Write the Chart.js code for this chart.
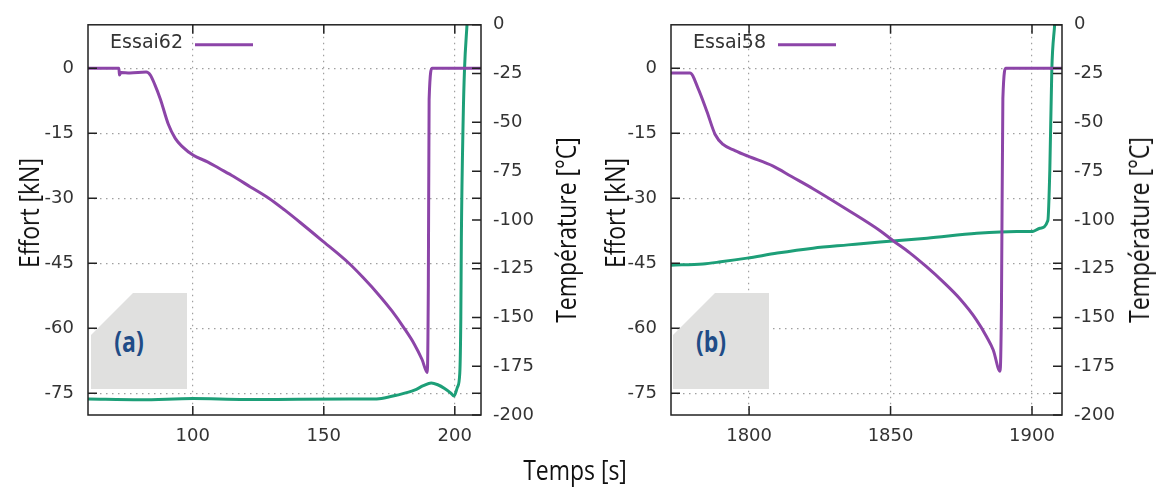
<!DOCTYPE html>
<html>
<head>
<meta charset="utf-8">
<script src="https://cdn.jsdelivr.net/npm/chart.js@4.4.1/dist/chart.umd.min.js"></script>
<style>
  body { margin: 0; background: #fff; }
  #wrap { position: relative; width: 1162px; height: 488px; overflow: hidden; }
  canvas { position: absolute; top: 0; }
  .narrow { position: absolute; white-space: nowrap; color: #111; font-size: 28px; line-height: 1;
            font-family: "Open Sans", "DejaVu Sans Condensed", sans-serif; }
  .rot { transform: translate(-50%, -50%) rotate(-90deg) scale(0.82, 1); }
  .flat { transform: translate(-50%, -50%) scale(0.82, 1); }
  .tag { position: absolute; width: 96px; height: 96px; top: 293px; background: #e0e0df;
         clip-path: polygon(0 42px, 42px 0, 100% 0, 100% 100%, 0 100%); }
  .tag span { position: absolute; left: 38px; top: 48px; transform: translate(-50%, -50%) scale(0.82, 1);
              font: bold 28px "Open Sans", "DejaVu Sans Condensed", sans-serif; color: #1f4c87; }
</style>
</head>
<body>
<div id="wrap">
  <canvas id="c62" width="580" height="488" style="left:0"></canvas>
  <canvas id="c58" width="582" height="488" style="left:580px"></canvas>
  <div class="tag" style="left:91px"><span>(a)</span></div>
  <div class="tag" style="left:673px"><span>(b)</span></div>
  <div class="narrow rot" style="left:28px; top:213px">Effort [kN]</div>
  <div class="narrow rot" style="left:614px; top:213px">Effort [kN]</div>
  <div class="narrow rot" style="left:565px; top:230px">Température [°C]</div>
  <div class="narrow rot" style="left:1138px; top:230px">Température [°C]</div>
  <div class="narrow flat" style="left:575px; top:469px">Temps [s]</div>
</div>
<script>
// Essai62 : effort (kN) vs temps (s)
const essai62Time = [60, 71.8, 72.0, 72.6, 76, 82.2, 83.8, 85.5, 87.6, 90.7, 93.3, 96.0, 100.2, 105.6, 110,
  115.6, 122, 129, 135, 141, 149, 159.6, 165, 171, 176, 180.7, 184.5, 187.5, 189.5, 189.9, 190.2, 191.4, 200, 210];
const essai62Effort = [0, 0, -1.6, -1.0, -1.1, -0.9, -1.6, -3.8, -7.1, -13.0, -16.2, -18.1, -20.1, -21.6, -23.1,
  -25.0, -27.4, -30.0, -32.7, -35.6, -39.6, -45.0, -48.3, -52.3, -56.0, -60.0, -63.6, -67.2, -70.2, -50, -7.2, 0, 0, 0];
// Essai62 : température (°C)
const essai62TempTime = [60, 80, 100, 120, 140, 160, 168, 172, 178, 184.6, 188, 191, 193.5, 196.1, 198.5, 199.7,
  201, 201.9, 202.3, 202.5, 203.2, 203.7, 204.7];
const essai62Temp = [-191.8, -192.2, -191.6, -192.1, -191.9, -191.8, -191.8, -191.5, -189.8, -187.3, -185.0, -183.6,
  -184.5, -186.4, -188.8, -190.3, -185.8, -178.6, -150, -110, -48, -23, 1];

// Essai58
const essai58Time = [1772.4, 1779.1, 1782, 1785.1, 1788, 1790.8, 1795, 1799.6, 1808.5, 1815, 1822.6, 1834.6, 1846.3,
  1850.9, 1856.8, 1862.7, 1868.6, 1874.5, 1880.4, 1884, 1886.3, 1888.7, 1889.2, 1889.7, 1890.8, 1900, 1910.6];
const essai58Effort = [-1.1, -1.1, -4.7, -10, -15.3, -17.6, -19.0, -20.3, -22.6, -25.0, -27.8, -32.6, -37.5,
  -39.8, -42.6, -45.8, -49.3, -53.2, -58.1, -62.0, -65.0, -69.9, -55, -7, 0, 0, 0];
const essai58TempTime = [1772.4, 1783.7, 1790, 1799.3, 1810, 1822.6, 1835, 1846.3, 1862.9, 1880.5, 1894.6, 1900.3,
  1902.8, 1905.6, 1906.3, 1907, 1908];
const essai58Temp = [-123.2, -122.6, -121.5, -119.6, -117, -114.5, -112.8, -111.3, -109.4, -106.9, -105.9, -105.9,
  -104.3, -100.3, -74, -23, 0];

const effortTicks = [0, -15, -30, -45, -60, -75];
const tempTicks = [0, -25, -50, -75, -100, -125, -150, -175, -200];
const timeTicks62 = [100, 150, 200];
const timeTicks58 = [1800, 1850, 1900];

const PURPLE = '#8c45a8';
const GREEN = '#1d9f78';
const tickFont = { family: '"DejaVu Sans", sans-serif', size: 18 };

function pairs(xs, ys) {
  return xs.map((x, i) => ({ x: x, y: ys[i] }));
}

function fixTicks(values) {
  return scale => { scale.ticks = values.map(v => ({ value: v })); };
}

// gnuplot-like frame, inward ticks and in-plot legend
const frameAndLegend = {
  id: 'frameAndLegend',
  afterDraw(chart) {
    const { ctx, chartArea: a, scales } = chart;
    const L = 9;
    ctx.save();
    ctx.strokeStyle = '#222';
    ctx.lineWidth = 1.5;
    ctx.strokeRect(a.left, a.top, a.right - a.left, a.bottom - a.top);
    ctx.beginPath();
    scales.y.ticks.forEach(t => {
      const p = scales.y.getPixelForValue(t.value);
      ctx.moveTo(a.left, p); ctx.lineTo(a.left + L, p);
      ctx.moveTo(a.right, p); ctx.lineTo(a.right - L, p);
    });
    scales.y2.ticks.forEach(t => {
      const p = scales.y2.getPixelForValue(t.value);
      ctx.moveTo(a.right, p); ctx.lineTo(a.right - L, p);
    });
    scales.x.ticks.forEach(t => {
      const p = scales.x.getPixelForValue(t.value);
      ctx.moveTo(p, a.bottom); ctx.lineTo(p, a.bottom - L);
      ctx.moveTo(p, a.top); ctx.lineTo(p, a.top + L);
    });
    ctx.stroke();

    const ds = chart.data.datasets[0];
    const ly = a.top + 18;
    ctx.font = '19px "DejaVu Sans", sans-serif';
    ctx.fillStyle = '#333';
    ctx.textAlign = 'right';
    ctx.textBaseline = 'middle';
    ctx.fillText(ds.label, a.left + 95, ly);
    ctx.strokeStyle = ds.borderColor;
    ctx.lineWidth = 3;
    ctx.beginPath();
    ctx.moveTo(a.left + 107, ly + 2);
    ctx.lineTo(a.left + 165, ly + 2);
    ctx.stroke();
    ctx.restore();
  }
};

function buildChart(id, o) {
  const gridStyle = { color: '#a0a0a0', lineWidth: 1.2, drawTicks: false };
  const dotted = { display: false, dash: [1.5, 4.5] };
  const labelTicks = { font: tickFont, color: '#333', callback: v => String(v) };
  return new Chart(document.getElementById(id), {
    type: 'line',
    data: {
      datasets: [
        {
          label: o.label,
          data: pairs(o.time, o.effort),
          yAxisID: 'y',
          borderColor: PURPLE,
          borderWidth: 3,
          pointRadius: 0,
          cubicInterpolationMode: 'monotone'
        },
        {
          label: 'Température',
          data: pairs(o.tempTime, o.temp),
          yAxisID: 'y2',
          borderColor: GREEN,
          borderWidth: 3,
          pointRadius: 0,
          cubicInterpolationMode: 'monotone'
        }
      ]
    },
    options: {
      responsive: false,
      animation: false,
      layout: { padding: { top: 22 } },
      plugins: { legend: { display: false }, tooltip: { enabled: false } },
      scales: {
        x: {
          type: 'linear',
          min: o.xMin,
          max: o.xMax,
          afterBuildTicks: fixTicks(o.timeTicks),
          afterFit: s => { s.height = 73; },
          grid: gridStyle,
          border: dotted,
          ticks: Object.assign({ padding: 11, maxRotation: 0 }, labelTicks)
        },
        y: {
          position: 'left',
          min: -80,
          max: 10,
          afterBuildTicks: fixTicks(effortTicks),
          afterFit: s => { s.width = o.leftWidth; },
          grid: gridStyle,
          border: dotted,
          ticks: Object.assign({ padding: 14 }, labelTicks)
        },
        y2: {
          position: 'right',
          min: -200,
          max: 0,
          afterBuildTicks: fixTicks(tempTicks),
          afterFit: s => { s.width = o.rightWidth; },
          grid: { display: false, drawTicks: false },
          border: { display: false },
          ticks: Object.assign({ padding: 12 }, labelTicks)
        }
      }
    },
    plugins: [frameAndLegend]
  });
}

buildChart('c62', {
  label: 'Essai62',
  time: essai62Time, effort: essai62Effort,
  tempTime: essai62TempTime, temp: essai62Temp,
  xMin: 60, xMax: 210, timeTicks: timeTicks62,
  leftWidth: 88, rightWidth: 99
});

buildChart('c58', {
  label: 'Essai58',
  time: essai58Time, effort: essai58Effort,
  tempTime: essai58TempTime, temp: essai58Temp,
  xMin: 1772.4, xMax: 1910.6, timeTicks: timeTicks58,
  leftWidth: 91, rightWidth: 100
});
</script>
</body>
</html>
